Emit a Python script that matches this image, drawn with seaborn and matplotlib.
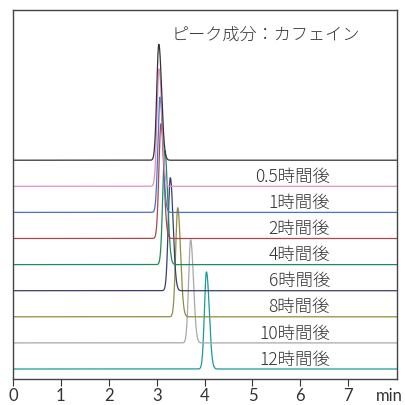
import numpy as np
import pandas as pd
import matplotlib
matplotlib.use("Agg")
import matplotlib.pyplot as plt
import matplotlib.transforms as mtransforms
import seaborn as sns

# Caffeine chromatograms at each sampling time (stacked traces)
labels = ["0.5時間後", "1時間後", "2時間後", "4時間後", "6時間後", "8時間後", "10時間後", "12時間後"]
retention_min = [3.05, 3.07, 3.09, 3.17, 3.285, 3.44, 3.71, 4.04]
peak_height = [4.50, 4.42, 4.40, 4.37, 4.33, 4.18, 3.95, 3.72]
# reference trace drawn on top of the stack
ref_retention = 3.045
ref_height = 4.44
colors = ["#e28fc6", "#4a72c4", "#a84848", "#1d8c5c", "#3c3c74", "#8e8e3e", "#a8a8a8", "#1b9a9a"]
ref_color = "#333333"

xticks = [0, 1, 2, 3, 4, 5, 6, 7]
XMAX = 8.02

sns.set_theme(style="white")
plt.rcParams["font.family"] = ["Noto Sans CJK JP", "DejaVu Sans"]
text_color = "#333333"

fig = plt.figure(figsize=(4.06, 4.05), dpi=100)
ax = fig.add_axes([0.032, 0.0642, 0.946, 0.9111])

t = np.linspace(0, XMAX, 3000)


def peak(rt, h, s_left=0.043, s_right=0.058):
    s = np.where(t < rt, s_left, s_right)
    return h * np.exp(-0.5 * ((t - rt) / s) ** 2)


n = len(labels)
frames = []
for i, (lab, rt, h) in enumerate(zip(labels, retention_min, peak_height)):
    offset = n - 1 - i
    frames.append(pd.DataFrame({"time": t, "signal": offset + peak(rt, h), "trace": lab}))
frames.append(pd.DataFrame({"time": t, "signal": n + peak(ref_retention, ref_height), "trace": "ref"}))
df = pd.concat(frames, ignore_index=True)

palette = dict(zip(labels, colors))
palette["ref"] = ref_color
order = labels[::-1] + ["ref"]
for name in order:
    sub = df[df["trace"] == name]
    sns.lineplot(data=sub, x="time", y="signal", color=palette[name], lw=0.9,
                 sort=False, ax=ax, legend=False)

for i, lab in enumerate(labels):
    offset = n - 1 - i
    ax.text(6.62, offset + 0.36, lab, ha="right", va="center", fontsize=12.5,
            color=text_color, fontweight="light")

ax.text(3.32, 12.8, "ピーク成分：カフェイン", ha="left", va="center", fontsize=12.3,
        color=text_color, fontweight="light")

TICK_LEN = 5
TICK_PAD = 1.5
ax.set_xlim(0, XMAX)
ax.set_ylim(-0.383, 13.755)
ax.set_xticks(xticks)
ax.set_xticklabels([str(v) for v in xticks], fontsize=12, color=text_color,
                   family=["Lato", "DejaVu Sans"], fontweight="normal")
ax.set_yticks([])
ax.set_xlabel("")
ax.set_ylabel("")
ax.tick_params(axis="x", direction="out", length=TICK_LEN, width=0.8, color="#333333",
               pad=TICK_PAD, bottom=True)
for sp in ax.spines.values():
    sp.set_color("#444444")
    sp.set_linewidth(1.0)

# unit label placed on the tick-label row
unit_tr = (mtransforms.blended_transform_factory(ax.transData, ax.transAxes)
           + mtransforms.ScaledTranslation(0, -(TICK_LEN + TICK_PAD) / 72, fig.dpi_scale_trans))
ax.text(7.85, 0, "min", transform=unit_tr, ha="center", va="top", fontsize=12,
        color=text_color, family=["Lato", "DejaVu Sans"], fontweight="normal")

fig.savefig("out.png", dpi=100)
